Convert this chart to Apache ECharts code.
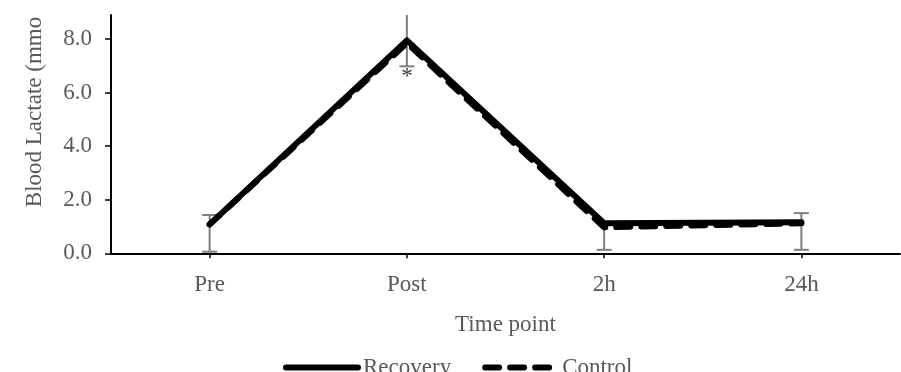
<!DOCTYPE html>
<html><head><meta charset="utf-8">
<script src="https://cdn.jsdelivr.net/npm/echarts@6/dist/echarts.min.js"></script>
<style>html,body{margin:0;padding:0;background:#fff}#c{width:901px;height:372px}</style>
</head><body><div id="c"></div>
<script>
const categories = ['Pre', 'Post', '2h', '24h'];
const recovery = [1.08, 7.95, 1.12, 1.16];
const control = [1.08, 7.85, 0.97, 1.12];
const errLow = [0.06, 6.98, 0.13, 0.13];
const errHigh = [1.43, 8.9, null, 1.5];
const yTicks = [0, 2, 4, 6, 8];
const sigMarks = [[1, 6.6, '*']];
const yName = 'Blood Lactate (mmo';
const xName = 'Time point';

const FONT = "'Liberation Serif', 'Times New Roman', serif";
const GRAY = '#595959';
const Y_MAX = 8.9;

const chart = echarts.init(document.getElementById('c'), null, {renderer: 'canvas'});

const errData = categories.map((c, i) => [i, errLow[i], errHigh[i] == null ? recovery[i] : errHigh[i], errHigh[i] == null ? 0 : 1]);

chart.setOption({
  animation: false,
  backgroundColor: '#fff',
  textStyle: {fontFamily: FONT},
  grid: {left: 111, right: 1, top: 14.9, bottom: 118.7, containLabel: false},
  legend: {
    left: 283, top: 356, padding: 0,
    itemWidth: 72, itemHeight: 14, itemGap: 31,
    itemStyle: {opacity: 0},
    lineStyle: {width: 6, cap: 'round'},
    textStyle: {fontFamily: FONT, fontSize: 23, color: GRAY},
    data: ['Recovery', 'Control']
  },
  xAxis: {
    type: 'category', data: categories, boundaryGap: true,
    name: xName, nameLocation: 'middle', nameGap: 60,
    nameTextStyle: {fontFamily: FONT, fontSize: 23, color: GRAY},
    axisLine: {show: true, lineStyle: {color: '#000', width: 2}},
    axisTick: {show: true, alignWithLabel: true, length: 5, lineStyle: {color: '#000', width: 1.5}},
    axisLabel: {fontFamily: FONT, fontSize: 23, color: GRAY, margin: 20},
    splitLine: {show: false}
  },
  yAxis: {
    type: 'value', min: 0, max: Y_MAX, interval: 2,
    axisLine: {show: true, lineStyle: {color: '#000', width: 2}},
    axisTick: {show: true, length: 6, customValues: yTicks, lineStyle: {color: '#000', width: 1.5}},
    axisLabel: {fontFamily: FONT, fontSize: 23, color: GRAY, margin: 19, customValues: yTicks,
      formatter: v => Number(v).toFixed(1)},
    splitLine: {show: false}
  },
  graphic: [{
    type: 'text', x: 35, y: 112, rotation: Math.PI / 2,
    style: {text: yName, fontFamily: FONT, fontSize: 23, fill: GRAY, align: 'center', verticalAlign: 'middle'}
  }],
  series: [
    {
      type: 'custom', name: 'err', z: 1, silent: true,
      data: errData,
      encode: {x: 0, y: [1, 2]},
      renderItem: function (params, api) {
        const i = api.value(0);
        const lo = api.value(1), hi = api.value(2), capHi = api.value(3);
        const p1 = api.coord([i, lo]);
        const p2 = api.coord([i, hi]);
        const hw = 7.5;
        const st = {stroke: '#7f7f7f', lineWidth: 2};
        const ch = [
          {type: 'line', shape: {x1: p1[0], y1: p1[1], x2: p2[0], y2: p2[1]}, style: st},
          {type: 'line', shape: {x1: p1[0] - hw, y1: p1[1], x2: p1[0] + hw, y2: p1[1]}, style: st}
        ];
        if (capHi && hi < Y_MAX) {
          ch.push({type: 'line', shape: {x1: p2[0] - hw, y1: p2[1], x2: p2[0] + hw, y2: p2[1]}, style: st});
        }
        return {type: 'group', children: ch};
      }
    },
    {
      name: 'Control', type: 'line', data: control, symbol: 'none', z: 3,
      itemStyle: {color: '#000'},
      lineStyle: {color: '#000', width: 6, type: [14, 11], cap: 'round', join: 'round'}
    },
    {
      name: 'Recovery', type: 'line', data: recovery, symbol: 'none', z: 4,
      itemStyle: {color: '#000'},
      lineStyle: {color: '#000', width: 6, type: 'solid', cap: 'round', join: 'round'}
    },
    {
      type: 'scatter', name: 'sig', z: 5, silent: true,
      data: sigMarks.map(d => [d[0], d[1], d[2]]),
      symbol: 'circle', symbolSize: 1,
      itemStyle: {color: 'rgba(0,0,0,0)'},
      label: {show: true, position: 'inside', formatter: p => p.value[2],
        fontFamily: FONT, fontSize: 23, color: '#000'}
    }
  ]
});
</script>
</body></html>
